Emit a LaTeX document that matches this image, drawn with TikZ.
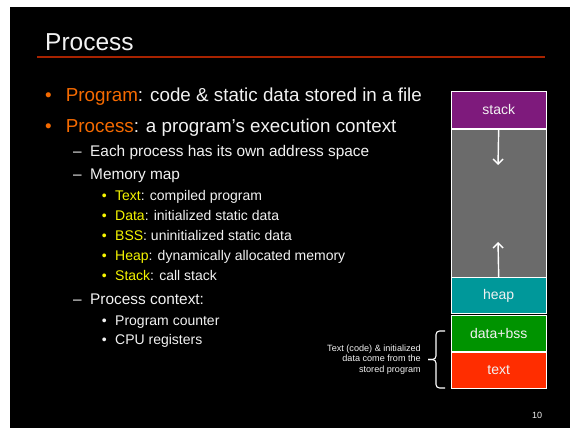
\documentclass[tikz,border=0pt]{standalone}
\usepackage{fontspec}
\setmainfont{Liberation Sans}
\usetikzlibrary{arrows.meta}
\definecolor{slidetext}{HTML}{F2F2F2}
\definecolor{keyorange}{HTML}{F56A00}
\definecolor{keyyellow}{HTML}{F5F500}
\definecolor{rulered}{HTML}{A82300}
\definecolor{stackpurple}{HTML}{7E1A7C}
\definecolor{freegray}{HTML}{6B6B6B}
\definecolor{heapteal}{HTML}{00989A}
\definecolor{datagreen}{HTML}{009300}
\definecolor{textred}{HTML}{FF2D00}
\begin{document}
\begin{tikzpicture}[x=1pt,y=-1pt,
  txt/.style={anchor=base west,inner sep=0pt,text=slidetext},
  lvlone/.style={txt,font=\fontsize{18.8}{22}\selectfont},
  lvltwo/.style={txt,font=\fontsize{15.4}{18}\selectfont},
  lvlthree/.style={txt,font=\fontsize{14}{16}\selectfont},
  seg/.style={draw=white,line width=1.4pt,minimum width=95pt,inner sep=0pt,
    text=slidetext,font=\fontsize{14}{16}\selectfont,anchor=north west},
  growth/.style={draw=white,line width=1.4pt,-{Straight Barb[length=5pt,width=10pt]}}
]
\useasboundingbox (0,0) rectangle (570,428);
\fill[white] (0,0) rectangle (570,428);
\fill[black] (10,7) rectangle (570,428);

% title and rule
\node[txt,font=\fontsize{24.5}{28}\selectfont] (title) at (45,51) {Process};
\draw[rulered,line width=1.8pt] (37,57) -- (545,57);

% first level
\node[lvlone,text=keyorange] (b1) at (45,101) {•};
\node[lvlone] (l1) at (65.7,101) {\textcolor{keyorange}{Program}: code \& static data stored in a file};
\node[lvlone,text=keyorange] (b2) at (45,132) {•};
\node[lvlone] (l2) at (65.7,132) {\textcolor{keyorange}{Process}: a program’s execution context};

% second level
\node[lvltwo] (d1) at (73,156) {–};
\node[lvltwo] (l3) at (90,156) {Each process has its own address space};
\node[lvltwo] (d2) at (73,179.3) {–};
\node[lvltwo] (l4) at (90,179.3) {Memory map};

% memory map items
\foreach \key/\rest/\yy [count=\i] in {Text/compiled program/200,
    Data/initialized static data/220.2,
    BSS/uninitialized static data/240.4,
    Heap/dynamically allocated memory/260.6,
    Stack/call stack/280.7}{
  \node[lvlthree,text=keyyellow] (mb\i) at (101.7,\yy) {•};
  \node[lvlthree] (mt\i) at (115,\yy) {\textcolor{keyyellow}{\key}: \rest};
}

\node[lvltwo] (d3) at (73,304.3) {–};
\node[lvltwo] (l5) at (90,304.3) {Process context:};
\node[lvlthree] (cb1) at (101.7,325) {•};
\node[lvlthree] (c1) at (115,325) {Program counter};
\node[lvlthree] (cb2) at (101.7,344.5) {•};
\node[lvlthree] (c2) at (115,344.5) {CPU registers};

% address space column
\node[seg,fill=stackpurple,minimum height=37pt] (stack) at (450.5,90.5) {stack};
\node[seg,fill=freegray,minimum height=148pt] (free) at (450.5,128.5) {};
\node[seg,fill=heapteal,minimum height=36pt] (heap) at (450.5,277) {heap};
\node[seg,fill=datagreen,minimum height=36pt] (data) at (450.5,314.5) {data+bss};
\node[seg,fill=textred,minimum height=36pt] (text) at (450.5,351.5) {text};

\coordinate (stackend) at (498,165);
\coordinate (heapend) at (498,242);
\draw[growth] (stack.south) -- (stackend);
\draw[growth] (heap.north) -- (heapend);

% brace for segments loaded from the program file
\coordinate (bracehigh) at (445,331);
\coordinate (bracelow) at (445,388);
\coordinate (bracetip) at (428,359.5);
\draw[white,line width=1.1pt,rounded corners=3.5pt]
  (bracehigh) -| (436,359.5) -- (bracetip);
\draw[white,line width=1.1pt,rounded corners=3.5pt]
  (bracelow) -| (436,359.5) -- (bracetip);
\node[anchor=east,align=right,inner sep=0pt,text=slidetext,
  font=\fontsize{9.1}{10.7}\selectfont] (note) at (421,359.5)
  {Text (code) \& initialized\\data come from the\\stored program};

% page number
\node[anchor=base west,inner sep=0pt,text=slidetext,font=\fontsize{9}{10}\selectfont] (pg) at (532,418.5) {10};
\end{tikzpicture}
\end{document}
